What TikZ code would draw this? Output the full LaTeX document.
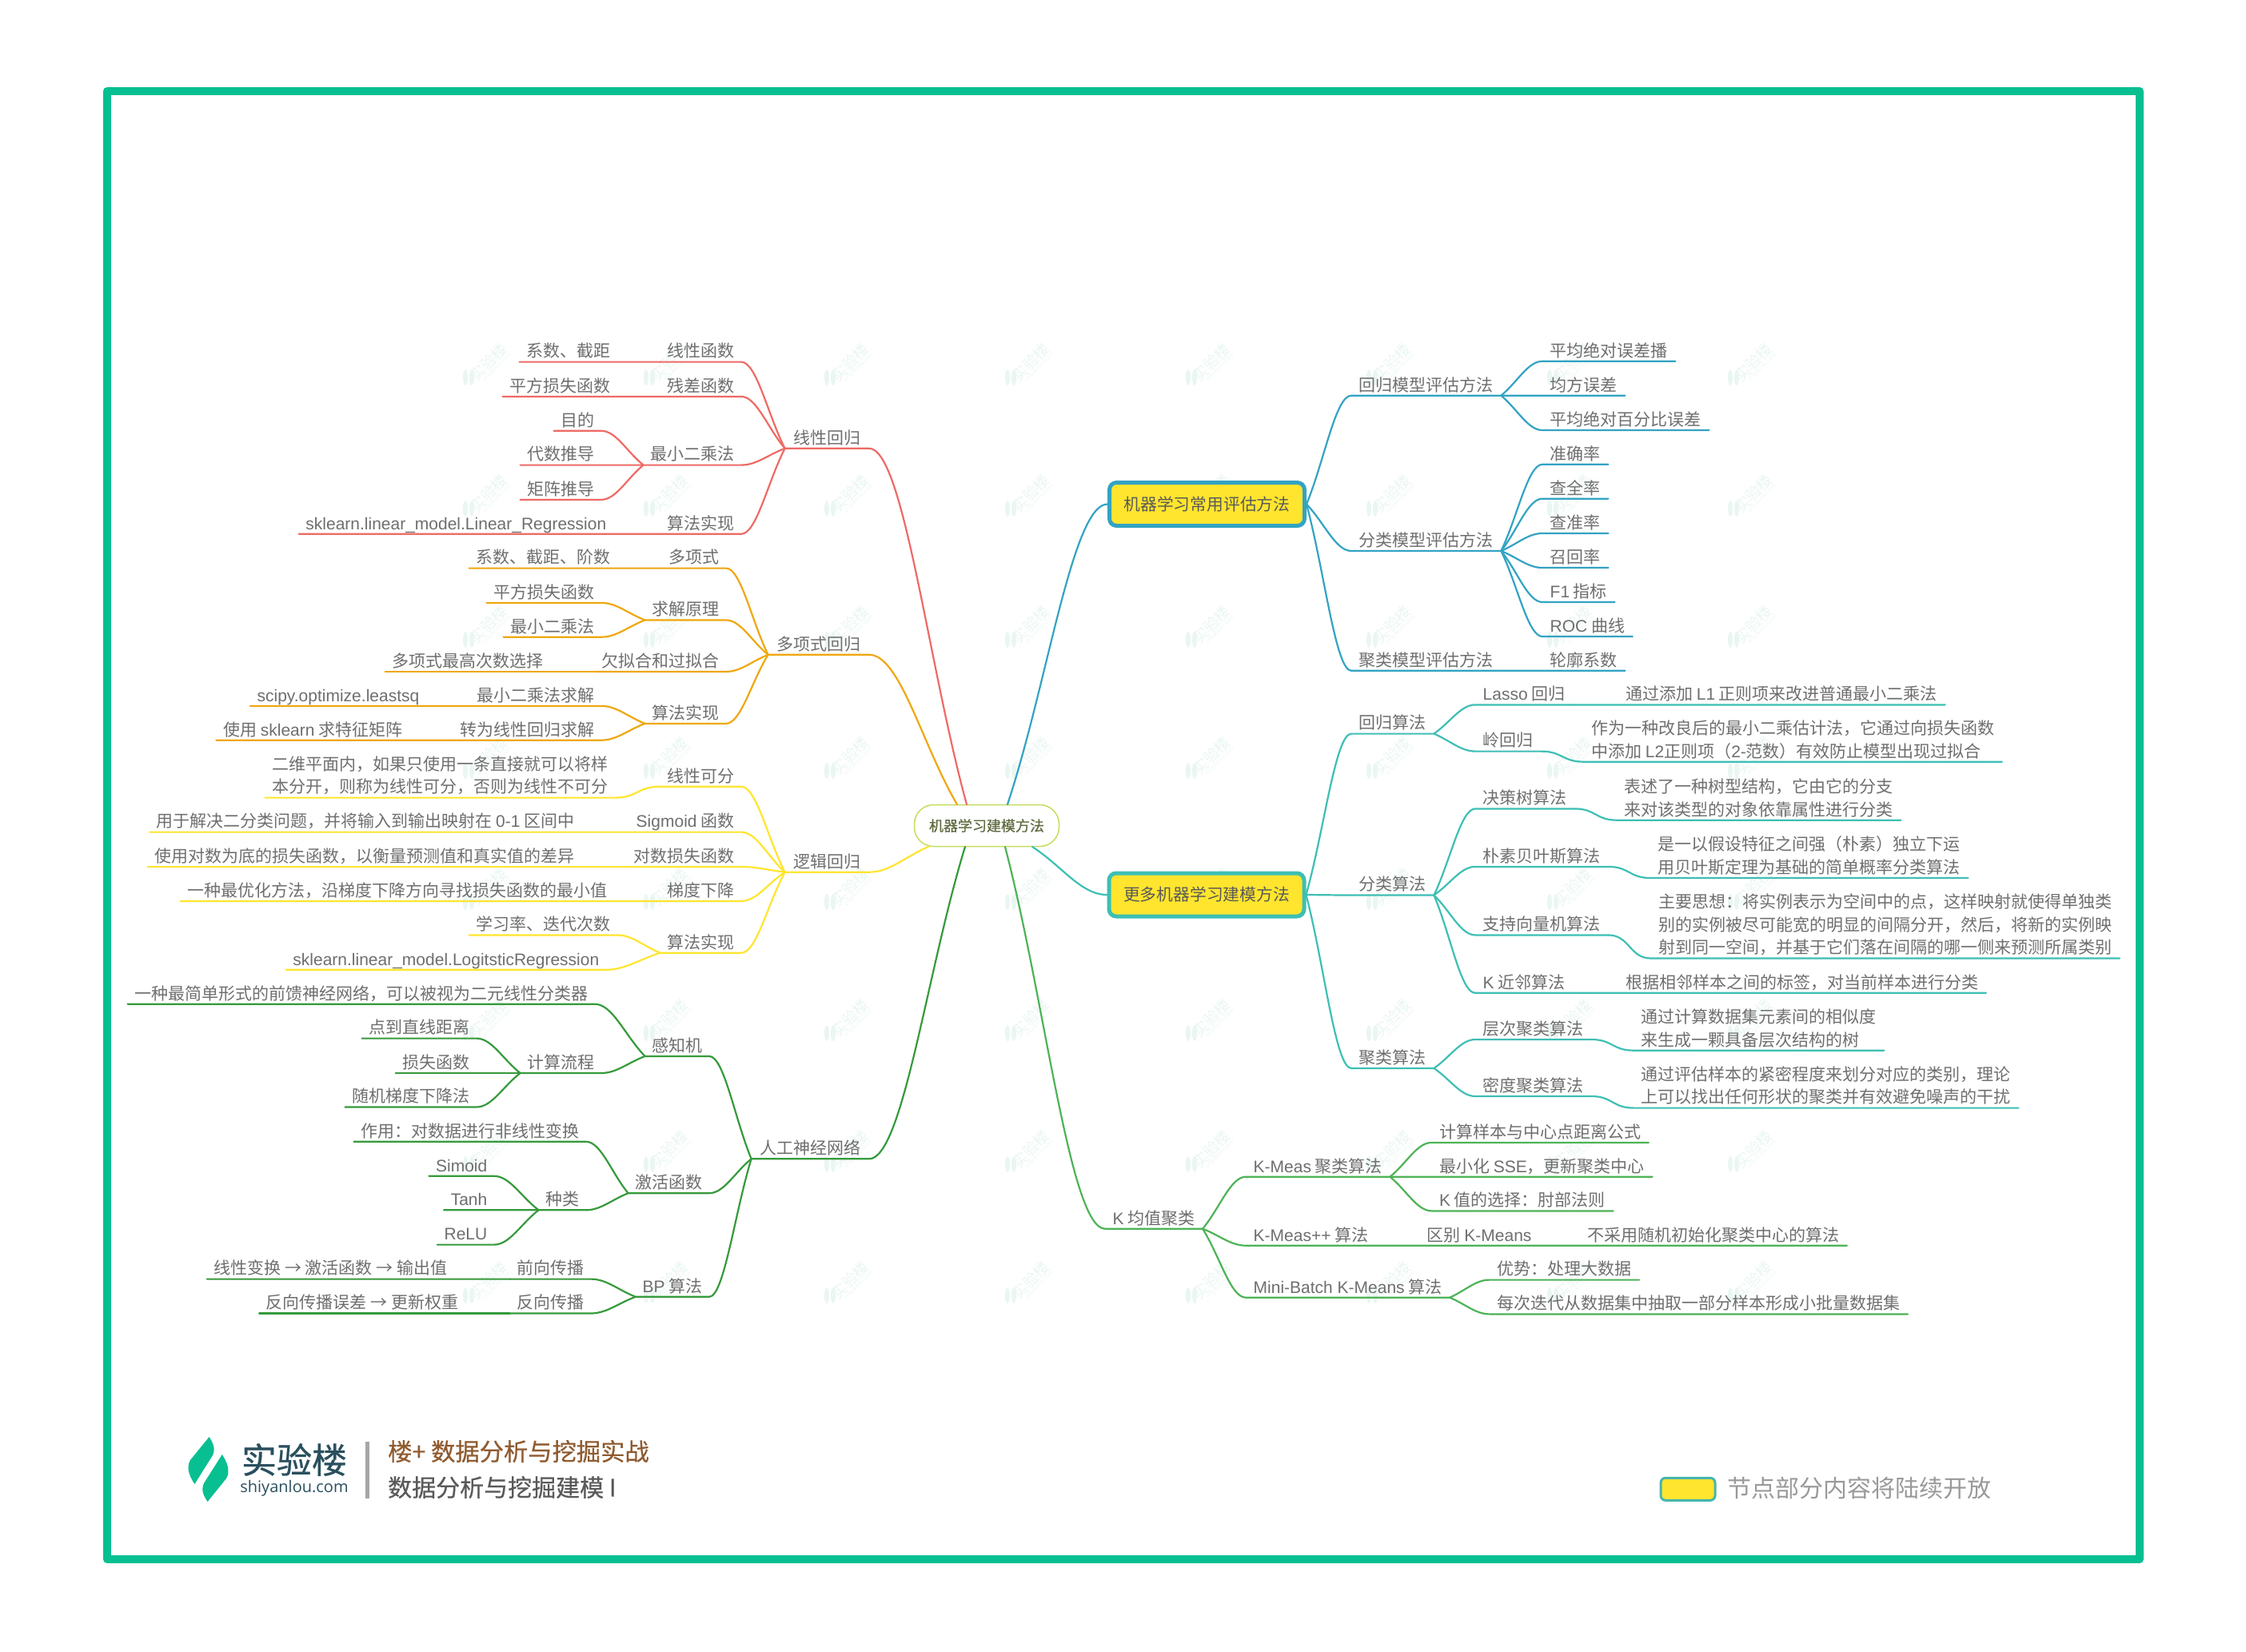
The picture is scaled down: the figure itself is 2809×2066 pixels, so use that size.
\documentclass[tikz,border=0pt]{standalone}
\usepackage{fontspec}
\usepackage{tikz}
\usetikzlibrary{calc}
\setmainfont{Noto Sans CJK SC}
\newfontfamily\enfont{Liberation Sans}
\newfontfamily\strongfont[FakeBold=0.6]{Noto Sans CJK SC}
\newfontfamily\sitefont{Open Sans}
\newcommand{\en}[1]{{\enfont #1}}
\definecolor{framecol}{HTML}{08BF91}
\definecolor{redline}{HTML}{EE6A65}
\definecolor{orangeline}{HTML}{EFA70F}
\definecolor{yellowline}{HTML}{FFE52E}
\definecolor{darkline}{HTML}{359A3B}
\definecolor{blueline}{HTML}{33A3C3}
\definecolor{tealline}{HTML}{3DBFB4}
\definecolor{greenline}{HTML}{4DB356}
\definecolor{wordcol}{HTML}{6E6E6E}
\definecolor{markcol}{HTML}{EAF6F2}
\definecolor{inkcol}{HTML}{2A4F5E}
\definecolor{rootword}{HTML}{5F6B3F}
\definecolor{rootedge}{HTML}{C3DE5C}
\definecolor{brownword}{HTML}{8F5B30}
\tikzset{
  topic/.style={font=\fontsize{21pt}{28.8pt}\selectfont, text=wordcol, align=left,
    inner ysep=5.5pt, text depth=0pt},
  ltopic/.style={topic, anchor=south east, inner xsep=8.5pt},
  lmain/.style={ltopic, inner xsep=10.5pt},
  rtopic/.style={topic, anchor=south west, inner xsep=9.5pt},
  mainbox/.style={font=\fontsize{20.8pt}{28.8pt}\selectfont, text=black!65, fill=yellowline,
    line width=5pt, rounded corners=9pt, minimum width=244pt, minimum height=54pt, inner sep=0pt},
  rootbox/.style={font=\strongfont\fontsize{18pt}{24pt}\selectfont, text=rootword,
    draw=rootedge, fill=white, line width=1.5pt, rounded corners=24pt,
    minimum width=181pt, minimum height=52pt, inner sep=0pt},
  wline/.style={line width=2.2pt, line cap=round},
  wmark/.style={font=\fontsize{19pt}{19pt}\selectfont, text=markcol, rotate=45, inner sep=0pt},
  wsite/.style={font=\sitefont\fontsize{7pt}{7pt}\selectfont, text=markcol, rotate=45, inner sep=0pt},
  branch/.style={to path={.. controls ($(\tikztostart)!0.35!(\tikztotarget |- \tikztostart)$)
    and ($(\tikztostart)!0.6!(\tikztotarget)$) .. (\tikztotarget)}},
  sbranch/.style={to path={.. controls ($(\tikztostart)!0.5!(\tikztotarget |- \tikztostart)$)
    and ($(\tikztotarget)!0.5!(\tikztostart |- \tikztotarget)$) .. (\tikztotarget)}}
}
\begin{document}
\begin{tikzpicture}[x=1pt,y=-1pt]
  \useasboundingbox (0,0) rectangle (2809,2066);
  % watermark grid
  \foreach \i in {0,...,7}
    \foreach \j in {0,...,7} {
      \node[wmark] (wm\i\j) at ({611+226*\i},{453+164*\j}) {实验楼};
      \node[wsite] (ws\i\j) at ({622+226*\i},{459+164*\j}) {shiyanlou.com};
      \fill[markcol] ({582+226*\i},{472+164*\j}) ellipse [x radius=3, y radius=10];
      \fill[markcol] ({590+226*\i},{472+164*\j}) ellipse [x radius=3, y radius=10];
    }
  \draw[framecol, line width=10pt, line join=round] (134,114) rectangle (2676,1950);

  % root and the two yellow boxes
  \node[rootbox] (root) at (1234,1032.5) {机器学习建模方法};
  \node[mainbox, draw=blueline] (evalmain) at (1509.5,630.5) {机器学习常用评估方法};
  \node[mainbox, draw=tealline] (moremain) at (1509,1119) {更多机器学习建模方法};
  \coordinate (rootRed) at (1209,1006);
  \coordinate (rootOrange) at (1197,1006);
  \coordinate (rootYellow) at (1161,1059);
  \coordinate (rootDark) at (1207,1059);
  \coordinate (rootBlue) at (1260,1006);
  \coordinate (rootTeal) at (1291,1059);
  \coordinate (rootGreen) at (1257,1059);

  % linear regression
  \node[lmain] (linreg) at (1087,560.8) {线性回归};
  \node[ltopic] (linfunc) at (927,452.6) {线性函数};
  \node[ltopic] (resfunc) at (927,495.9) {残差函数};
  \node[ltopic] (lsq) at (927,581.6) {最小二乘法};
  \node[ltopic] (linalgo) at (927,667.8) {算法实现};
  \node[ltopic] (coefa) at (772,452.6) {系数、截距};
  \node[ltopic] (lossa) at (772,495.9) {平方损失函数};
  \node[ltopic] (aim) at (752,538.8) {目的};
  \node[ltopic] (algebra) at (752,581.6) {代数推导};
  \node[ltopic] (matrix) at (752,624.9) {矩阵推导};
  \node[ltopic] (linsk) at (767,667.8) {\en{sklearn.linear\_model.Linear\_Regression}};

  % polynomial regression
  \node[lmain] (polyreg) at (1087,818.8) {多项式回归};
  \node[ltopic] (poly) at (908,710.6) {多项式};
  \node[ltopic] (solve) at (908,775.5) {求解原理};
  \node[ltopic] (fit) at (908,840) {欠拟合和过拟合};
  \node[ltopic] (polyalgo) at (908,904.9) {算法实现};
  \node[ltopic] (coefb) at (772,710.6) {系数、截距、阶数};
  \node[ltopic] (lossb) at (752,753.9) {平方损失函数};
  \node[ltopic] (lsqb) at (752,796.7) {最小二乘法};
  \node[ltopic] (degree) at (688,840) {多项式最高次数选择};
  \node[ltopic] (lsqsolve) at (752,882.9) {最小二乘法求解};
  \node[ltopic] (tolinear) at (752,925.7) {转为线性回归求解};
  \node[ltopic] (scipy) at (533,882.9) {\en{scipy.optimize.leastsq}};
  \node[ltopic] (eigen) at (512,925.7) {使用 \en{sklearn} 求特征矩阵};

  % logistic regression
  \node[lmain] (logreg) at (1087,1090.7) {逻辑回归};
  \node[ltopic] (separable) at (927,983.7) {线性可分};
  \node[ltopic] (sigmoid) at (927,1040.6) {\en{Sigmoid} 函数};
  \node[ltopic] (logloss) at (927,1084) {对数损失函数};
  \node[ltopic] (descent) at (927,1126.9) {梯度下降};
  \node[ltopic] (logalgo) at (927,1191.7) {算法实现};
  \node[ltopic] (plane) at (769,997.6) {二维平面内，如果只使用一条直接就可以将样\\本分开，则称为线性可分，否则为线性不可分};
  \node[ltopic] (sigtext) at (727,1040.6) {用于解决二分类问题，并将输入到输出映射在 \en{0-1} 区间中};
  \node[ltopic] (logtext) at (727,1084) {使用对数为底的损失函数，以衡量预测值和真实值的差异};
  \node[ltopic] (desctext) at (768,1126.9) {一种最优化方法，沿梯度下降方向寻找损失函数的最小值};
  \node[ltopic] (rate) at (772,1169.4) {学习率、迭代次数};
  \node[ltopic] (logsk) at (758,1212.8) {\en{sklearn.linear\_model.LogitsticRegression}};

  % neural network
  \node[lmain] (annet) at (1087,1449.3) {人工神经网络};
  \node[ltopic] (percep) at (887,1320.9) {感知机};
  \node[ltopic] (activ) at (887,1492.2) {激活函数};
  \node[ltopic] (bp) at (887,1621.8) {\en{BP} 算法};
  \node[ltopic] (pertext) at (744,1255.7) {一种最简单形式的前馈神经网络，可以被视为二元线性分类器};
  \node[ltopic] (compute) at (752,1342) {计算流程};
  \node[ltopic] (dist) at (596,1298.6) {点到直线距离};
  \node[ltopic] (lossc) at (596,1342) {损失函数};
  \node[ltopic] (sgd) at (596,1384.5) {随机梯度下降法};
  \node[ltopic] (role) at (733,1427.8) {作用：对数据进行非线性变换};
  \node[ltopic] (kinds) at (733,1513.3) {种类};
  \node[ltopic] (simoid) at (618,1470.8) {\en{Simoid}};
  \node[ltopic] (tanh) at (618,1513.3) {\en{Tanh}};
  \node[ltopic] (relu) at (618,1556.6) {\en{ReLU}};
  \node[ltopic] (forw) at (739,1599.6) {前向传播};
  \node[ltopic] (backw) at (739,1642.5) {反向传播};
  \node[ltopic] (forwtext) at (568,1599.6) {线性变换 → 激活函数 → 输出值};
  \node[ltopic] (backwtext) at (582,1642.5) {反向传播误差 → 更新权重};

  % evaluation methods
  \node[rtopic] (regeval) at (1690,494.7) {回归模型评估方法};
  \node[rtopic] (claeval) at (1690,689) {分类模型评估方法};
  \node[rtopic] (clueval) at (1690,838.8) {聚类模型评估方法};
  \node[rtopic] (mae) at (1929,451.8) {平均绝对误差播};
  \node[rtopic] (mse) at (1929,494.7) {均方误差};
  \node[rtopic] (mape) at (1929,538) {平均绝对百分比误差};
  \node[rtopic] (acc) at (1929,580.8) {准确率};
  \node[rtopic] (recall) at (1929,623.7) {查全率};
  \node[rtopic] (prec) at (1929,667) {查准率};
  \node[rtopic] (recallb) at (1929,710) {召回率};
  \node[rtopic] (fone) at (1929,753) {\en{F1} 指标};
  \node[rtopic] (roc) at (1929,796) {\en{ROC} 曲线};
  \node[rtopic] (silh) at (1929,838.8) {轮廓系数};

  % more algorithms
  \node[rtopic] (regalgo) at (1690,917.6) {回归算法};
  \node[rtopic] (claalgo) at (1690,1119.5) {分类算法};
  \node[rtopic] (clualgo) at (1690,1336) {聚类算法};
  \node[rtopic] (lasso) at (1845,881.4) {\en{Lasso} 回归};
  \node[rtopic] (ridge) at (1845,939.6) {岭回归};
  \node[rtopic] (tree) at (1845,1011.4) {决策树算法};
  \node[rtopic] (bayes) at (1845,1083.9) {朴素贝叶斯算法};
  \node[rtopic] (svm) at (1845,1169.4) {支持向量机算法};
  \node[rtopic] (knn) at (1845,1241.8) {\en{K} 近邻算法};
  \node[rtopic] (hier) at (1845,1300) {层次聚类算法};
  \node[rtopic] (dens) at (1845,1371) {密度聚类算法};
  \node[rtopic] (lassotext) at (2023.5,881.4) {通过添加 \en{L1} 正则项来改进普通最小二乘法};
  \node[rtopic] (ridgetext) at (1980.5,952.7) {作为一种改良后的最小二乘估计法，它通过向损失函数\\中添加 \en{L2}正则项（\en{2-}范数）有效防止模型出现过拟合};
  \node[rtopic] (treetext) at (2022,1025.7) {表述了一种树型结构，它由它的分支\\来对该类型的对象依靠属性进行分类};
  \node[rtopic] (bayestext) at (2064,1098) {是一以假设特征之间强（朴素）独立下运\\用贝叶斯定理为基础的简单概率分类算法};
  \node[rtopic] (svmtext) at (2064.7,1198.5) {主要思想：将实例表示为空间中的点，这样映射就使得单独类\\别的实例被尽可能宽的明显的间隔分开，然后，将新的实例映\\射到同一空间，并基于它们落在间隔的哪一侧来预测所属类别};
  \node[rtopic] (knntext) at (2023.5,1241.8) {根据相邻样本之间的标签，对当前样本进行分类};
  \node[rtopic] (hiertext) at (2043,1313.7) {通过计算数据集元素间的相似度\\来生成一颗具备层次结构的树};
  \node[rtopic] (denstext) at (2043,1385.6) {通过评估样本的紧密程度来划分对应的类别，理论\\上可以找出任何形状的聚类并有效避免噪声的干扰};

  % k-means
  \node[rtopic] (kmeans) at (1382,1536.7) {\en{K} 均值聚类};
  \node[rtopic] (kmeasa) at (1558,1471.7) {\en{K-Meas} 聚类算法};
  \node[rtopic] (kmeasb) at (1558,1557.7) {\en{K-Meas++} 算法};
  \node[rtopic] (minibatch) at (1558,1622.7) {\en{Mini-Batch K-Means} 算法};
  \node[rtopic] (centre) at (1790.5,1428.9) {计算样本与中心点距离公式};
  \node[rtopic] (sse) at (1790.5,1471.7) {最小化 \en{SSE}，更新聚类中心};
  \node[rtopic] (elbow) at (1790.5,1514.4) {\en{K} 值的选择：肘部法则};
  \node[rtopic] (diff) at (1775,1557.7) {区别 \en{K-Means}};
  \node[rtopic] (difftext) at (1975.5,1557.7) {不采用随机初始化聚类中心的算法};
  \node[rtopic] (bigdata) at (1862.7,1600.6) {优势：处理大数据};
  \node[rtopic] (sample) at (1862.7,1643.4) {每次迭代从数据集中抽取一部分样本形成小批量数据集};

  % connectors, left side
  \foreach \a/\b in {coefa/linfunc,lossa/resfunc,aim/lsq,algebra/lsq,matrix/lsq,linsk/linalgo,linfunc/linreg,resfunc/linreg,lsq/linreg,linalgo/linreg}
    \draw[wline, redline] (\a.south west) -- (\a.south east) to[branch] (\b.south west);
  \foreach \a/\b in {coefb/poly,lossb/solve,lsqb/solve,degree/fit,scipy/lsqsolve,eigen/tolinear,lsqsolve/polyalgo,tolinear/polyalgo,poly/polyreg,solve/polyreg,fit/polyreg,polyalgo/polyreg}
    \draw[wline, orangeline] (\a.south west) -- (\a.south east) to[branch] (\b.south west);
  \foreach \a/\b in {sigtext/sigmoid,logtext/logloss,desctext/descent,rate/logalgo,logsk/logalgo,separable/logreg,sigmoid/logreg,logloss/logreg,descent/logreg,logalgo/logreg}
    \draw[wline, yellowline] (\a.south west) -- (\a.south east) to[branch] (\b.south west);
  \draw[wline, yellowline] (plane.south west) -- (plane.south east) to[sbranch] (separable.south west);
  \foreach \a/\b in {pertext/percep,compute/percep,dist/compute,lossc/compute,sgd/compute,role/activ,kinds/activ,simoid/kinds,tanh/kinds,relu/kinds,forw/bp,backw/bp,forwtext/forw,backwtext/backw,percep/annet,activ/annet,bp/annet}
    \draw[wline, darkline] (\a.south west) -- (\a.south east) to[branch] (\b.south west);

  % connectors, right side
  \foreach \a/\b in {mae/regeval,mse/regeval,mape/regeval,acc/claeval,recall/claeval,prec/claeval,recallb/claeval,fone/claeval,roc/claeval,silh/clueval}
    \draw[wline, blueline] (\a.south east) -- (\a.south west) to[branch] (\b.south east);
  \foreach \a in {regeval,claeval,clueval}
    \draw[wline, blueline] (\a.south east) -- (\a.south west) to[branch] (evalmain.east);
  \foreach \a/\b in {lasso/regalgo,ridge/regalgo,tree/claalgo,bayes/claalgo,svm/claalgo,knn/claalgo,hier/clualgo,dens/clualgo,lassotext/lasso,knntext/knn}
    \draw[wline, tealline] (\a.south east) -- (\a.south west) to[branch] (\b.south east);
  \foreach \a/\b in {ridgetext/ridge,treetext/tree,bayestext/bayes,svmtext/svm,hiertext/hier,denstext/dens}
    \draw[wline, tealline] (\a.south east) -- (\a.south west) to[sbranch] (\b.south east);
  \foreach \a in {regalgo,claalgo,clualgo}
    \draw[wline, tealline] (\a.south east) -- (\a.south west) to[branch] (moremain.east);
  \foreach \a/\b in {kmeasa/kmeans,kmeasb/kmeans,minibatch/kmeans,centre/kmeasa,sse/kmeasa,elbow/kmeasa,difftext/diff,diff/kmeasb,bigdata/minibatch,sample/minibatch}
    \draw[wline, greenline] (\a.south east) -- (\a.south west) to[branch] (\b.south east);

  % connectors to the root
  \draw[wline, redline] (linreg.south west) -- (linreg.south east) to[branch] (rootRed);
  \draw[wline, orangeline] (polyreg.south west) -- (polyreg.south east) to[branch] (rootOrange);
  \draw[wline, yellowline] (logreg.south west) -- (logreg.south east) to[branch] (rootYellow);
  \draw[wline, darkline] (annet.south west) -- (annet.south east) to[branch] (rootDark);
  \draw[wline, blueline] (evalmain.west) to[branch] (rootBlue);
  \draw[wline, tealline] (moremain.west) to[branch] (rootTeal);
  \draw[wline, greenline] (kmeans.south east) -- (kmeans.south west) to[branch] (rootGreen);

  % logo
  \fill[framecol] (261.6,1797) .. controls (266,1804) and (270,1811) .. (266,1820) -- (243.4,1856) .. controls (238,1848) and (232,1836) .. (238,1826) -- cycle;
  \fill[framecol] (259.6,1878) .. controls (255,1871) and (251,1864) .. (255,1855) -- (277.8,1819) .. controls (283,1827) and (289,1839) .. (283,1849) -- cycle;
  \node[inner sep=0pt, text=inkcol] (logoname) at (368,1825.5) {\strongfont\fontsize{44pt}{44pt}\selectfont 实验楼};
  \node[inner sep=0pt, text=inkcol] (logosite) at (368,1861) {\sitefont\fontsize{20pt}{20pt}\selectfont shiyanlou.com};
  \fill[black!35] (456.7,1802.7) rectangle (462.4,1874);
  \node[inner sep=0pt, anchor=west, text=brownword] (course) at (485,1815) {\strongfont\fontsize{30.3pt}{30pt}\selectfont 楼+ 数据分析与挖掘实战};
  \node[inner sep=0pt, anchor=west, text=black!65] (chapter) at (485,1860) {\strongfont\fontsize{30pt}{30pt}\selectfont 数据分析与挖掘建模 I};

  % legend
  \node[fill=yellowline, draw=tealline!85!gray, line width=3pt, rounded corners=6pt, minimum width=68pt, minimum height=28pt, inner sep=0pt] (legendbox) at (2111,1862.3) {};
  \node[inner sep=0pt, anchor=west, text=black!40, font=\fontsize{30pt}{30pt}\selectfont] (legendtext) at (2160,1861) {节点部分内容将陆续开放};
\end{tikzpicture}
\end{document}
